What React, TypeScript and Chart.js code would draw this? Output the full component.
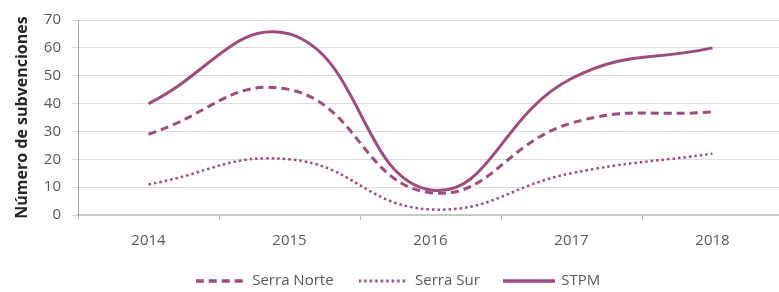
import React, { useEffect, useRef } from "react";
import { Chart, registerables } from "chart.js";

Chart.register(...registerables);

const years = ["2014", "2015", "2016", "2017", "2018"];
const serraNorte = [29, 45, 8, 33, 37];
const serraSur = [11, 20, 2, 15, 22];
const stpm = [40, 65, 9, 49, 60];
const yMin = 0;
const yMax = 70;
const yStep = 10;
const yTitle = "Número de subvenciones";

const LINE = "#9E4B80";
const FONT = "'Open Sans', sans-serif";

const dashNorte = [8, 5];
const dashSur = [2.5, 3];

function sample(dash: number[], lw: number, w: number) {
  const c = document.createElement("canvas");
  c.width = w;
  c.height = 8;
  const g = c.getContext("2d")!;
  g.strokeStyle = LINE;
  g.lineWidth = lw;
  g.setLineDash(dash);
  g.beginPath();
  g.moveTo(0, 4);
  g.lineTo(w, 4);
  g.stroke();
  return c;
}

export default function App() {
  const ref = useRef<HTMLCanvasElement>(null);

  useEffect(() => {
    const samples = [
      sample(dashNorte, 3.5, 48),
      sample(dashSur, 3, 48),
      sample([], 3.5, 52),
    ];
    const chart = new Chart(ref.current!, {
      type: "line",
      data: {
        labels: years,
        datasets: [
          {
            label: "Serra Norte",
            data: serraNorte,
            borderColor: LINE,
            backgroundColor: LINE,
            borderWidth: 3,
            borderDash: dashNorte,
            pointRadius: 0,
            tension: 0.45,
          },
          {
            label: "Serra Sur",
            data: serraSur,
            borderColor: LINE,
            backgroundColor: LINE,
            borderWidth: 2.5,
            borderDash: dashSur,
            pointRadius: 0,
            tension: 0.45,
          },
          {
            label: "STPM",
            data: stpm,
            borderColor: LINE,
            backgroundColor: LINE,
            borderWidth: 3,
            pointRadius: 0,
            tension: 0.45,
          },
        ],
      },
      options: {
        animation: false,
        responsive: false,
        maintainAspectRatio: false,
        layout: { padding: { left: 12, right: 7, top: 20, bottom: -6.5 } },
        plugins: {
          tooltip: { enabled: false },
          legend: {
            position: "bottom",
            labels: {
              usePointStyle: true,
              pointStyleWidth: 50,
              padding: 24,
              color: "#595959",
              font: { family: FONT, size: 15 },
              generateLabels: (c: any) =>
                (Chart.defaults.plugins.legend.labels as any)
                  .generateLabels(c)
                  .map((it: any, i: number) => ({ ...it, pointStyle: samples[i] })),
            },
          },
        },
        scales: {
          x: {
            offset: true,
            afterFit: (s: any) => {
              s.height = 34.5;
            },
            grid: {
              offset: true,
              drawOnChartArea: false,
              drawTicks: true,
              tickLength: 5,
              color: "#bfbfbf",
            },
            border: { color: "#c8c8c8", width: 2 },
            ticks: {
              padding: 12,
              color: "#595959",
              font: { family: FONT, size: 15 },
              maxRotation: 0,
            },
          },
          y: {
            min: yMin,
            max: yMax,
            afterFit: (s: any) => {
              s.width = 66;
            },
            grid: { color: "#dcdcdc", tickLength: 6, drawTicks: true },
            border: { color: "#a6a6a6", width: 1 },
            ticks: {
              stepSize: yStep,
              padding: 11,
              color: "#595959",
              font: { family: FONT, size: 15 },
            },
            title: {
              display: true,
              text: yTitle,
              color: "#262626",
              padding: { top: 1, bottom: 0 },
              font: { family: FONT, size: 16, weight: "bold" },
            },
          },
        },
      },
    });
    return () => chart.destroy();
  }, []);

  return (
    <div
      style={{
        position: "fixed",
        left: 0,
        top: 0,
        width: 779,
        height: 292,
        overflow: "hidden",
        background: "#fff",
      }}
    >
      <canvas
        ref={ref}
        width={790}
        height={292}
        style={{ display: "block", width: 790, height: 292 }}
      />
    </div>
  );
}
